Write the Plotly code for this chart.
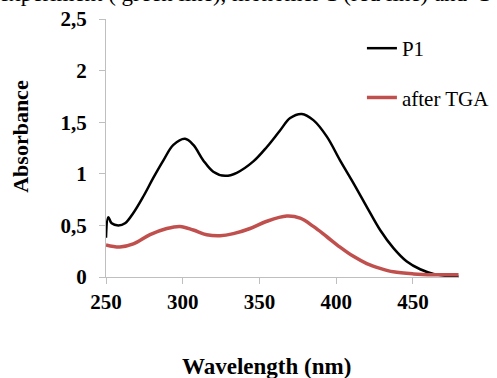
import plotly.graph_objects as go

# P1 spectrum (black)
p1_wl = [250, 251.5, 253.7, 258, 262.4, 267.8, 274.3, 280.8, 287.4, 293.9, 301.5, 306.9,
         313.4, 319.9, 327.6, 335.2, 346, 354.8, 363.4, 370, 377.6, 385.1, 393.9, 402.5,
         411.2, 419.9, 428.6, 437.3, 446, 454.7, 463.4, 472, 479.7]
p1_abs = [0.38, 0.58, 0.52, 0.50, 0.52, 0.62, 0.78, 0.96, 1.13, 1.28, 1.34, 1.28,
          1.13, 1.02, 0.98, 1.01, 1.12, 1.26, 1.42, 1.54, 1.58, 1.52, 1.36, 1.13,
          0.91, 0.68, 0.455, 0.28, 0.15, 0.075, 0.03, 0.01, 0.003]

# after TGA spectrum (red)
tga_wl = [250, 259, 267.8, 278.7, 289.6, 298.2, 306.9, 315.6, 324.3, 333, 343.9, 354.8,
          367.8, 376.5, 385.1, 393.9, 402.5, 411.2, 419.9, 428.6, 437.3, 450.3, 463.4, 479.7]
tga_abs = [0.31, 0.29, 0.32, 0.41, 0.47, 0.49, 0.455, 0.41, 0.40, 0.42, 0.47, 0.54,
           0.59, 0.57, 0.49, 0.39, 0.29, 0.20, 0.13, 0.084, 0.05, 0.03, 0.022, 0.022]

x_ticks = [250, 300, 350, 400, 450]
y_ticks = [0, 0.5, 1, 1.5, 2, 2.5]
y_tick_labels = ["0", "0,5", "1", "1,5", "2", "2,5"]

FONT = "Liberation Serif, Times New Roman, serif"

fig = go.Figure()
fig.add_trace(go.Scatter(x=p1_wl, y=p1_abs, mode="lines", name="P1",
                         line=dict(color="black", width=2.5, shape="spline"),
                         legendgroup="a"))
fig.add_trace(go.Scatter(x=tga_wl, y=tga_abs, mode="lines", name="after TGA",
                         line=dict(color="#C0504D", width=3.5, shape="spline"),
                         legendgroup="b"))

fig.update_layout(
    width=497, height=378,
    margin=dict(l=106, r=38, t=19, b=101, autoexpand=False),
    paper_bgcolor="white", plot_bgcolor="white",
    font=dict(family=FONT, color="black"),
    showlegend=True,
    legend=dict(x=0.725, xanchor="left", y=0.965, yanchor="top",
                font=dict(family=FONT, size=21, color="black"),
                itemwidth=30, tracegroupgap=19, bgcolor="rgba(0,0,0,0)",
                traceorder="grouped"),
    annotations=[
        dict(text="experiment ( green line), monomer 1 (red line) and  1",
             xref="paper", yref="paper", x=-0.31, y=1.097,
             xanchor="left", yanchor="middle", showarrow=False,
             font=dict(family=FONT, size=23, color="black")),
        dict(text="<b>Wavelength (nm)</b>", xref="paper", yref="paper",
             x=0.456, y=-0.345, xanchor="center", yanchor="middle", showarrow=False,
             font=dict(family=FONT, size=23, color="black")),
        dict(text="<b>Absorbance</b>", xref="paper", yref="paper", textangle=-90,
             x=-0.241, y=0.547, xanchor="center", yanchor="middle", showarrow=False,
             font=dict(family=FONT, size=22, color="black")),
    ],
)
fig.update_xaxes(range=[250, 480], tickvals=x_ticks, showgrid=False, zeroline=False,
                 showline=True, linecolor="#BFBFBF", linewidth=1,
                 ticks="outside", ticklen=6, tickcolor="#BFBFBF",
                 tickfont=dict(family=FONT, size=21, color="black", weight="bold"))
fig.update_yaxes(range=[0, 2.5], tickvals=y_ticks, ticktext=y_tick_labels,
                 showgrid=False, zeroline=False,
                 showline=True, linecolor="#BFBFBF", linewidth=1,
                 ticks="outside", ticklen=6, tickcolor="#BFBFBF", ticklabelstandoff=8,
                 tickfont=dict(family=FONT, size=21, color="black", weight="bold"))

fig.write_html("out.html")
